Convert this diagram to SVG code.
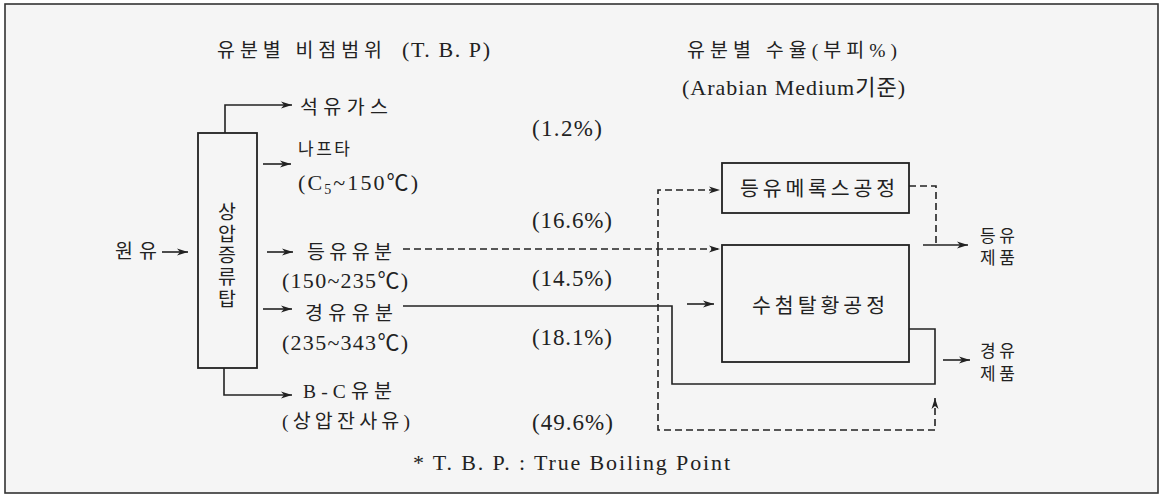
<svg xmlns="http://www.w3.org/2000/svg" width="1164" height="496" viewBox="0 0 1164 496">
<style>
text{font-family:'Liberation Serif','Noto Sans CJK KR',serif;fill:#222;}
.k{font-size:19.5px;}
.ks{font-size:17px;}
.kb{font-size:20.5px;}
.p{font-size:23px;}
.t{font-size:22px;}
.box{fill:none;stroke:#222;stroke-width:1.8;}
.ln{fill:none;stroke:#222;stroke-width:1.6;}
.ds{fill:none;stroke:#222;stroke-width:1.6;stroke-dasharray:7 4;}
</style>
<defs>
<marker id="ah" markerUnits="userSpaceOnUse" markerWidth="12" markerHeight="8" refX="11" refY="4" orient="auto">
<path d="M0,0.5 L11,4 L0,7.5 L3,4 Z" fill="#222"/>
</marker>
</defs>
<rect x="0" y="0" width="1164" height="496" fill="#fff"/>
<rect x="5" y="4" width="1153" height="489" fill="#f5f5f5" stroke="#333" stroke-width="1.6"/>

<g id="titles">
<text x="217" y="57"><tspan class="k" textLength="165" lengthAdjust="spacing">유분별 비점범위</tspan><tspan class="t" x="402" textLength="88" lengthAdjust="spacing">(T. B. P)</tspan></text>
<text class="k" x="687" y="57" textLength="210" lengthAdjust="spacing">유분별 수율(부피%)</text>
<text class="t" x="682" y="95" textLength="223" lengthAdjust="spacing">(Arabian Medium기준)</text>
</g>

<g id="column">
<rect class="box" x="198" y="133" width="59" height="235"/>
<text class="k" text-anchor="middle"><tspan x="227" y="219">상</tspan><tspan x="227" y="241">압</tspan><tspan x="227" y="262">증</tspan><tspan x="227" y="284">류</tspan><tspan x="227" y="306">탑</tspan></text>
</g>

<g id="crude"><text class="k" x="115" y="258" textLength="42" lengthAdjust="spacing">원유</text></g>
<g id="gas"><text class="k" x="300" y="114" textLength="88" lengthAdjust="spacing">석유가스</text></g>
<g id="naphtha">
<text class="ks" x="298" y="155" textLength="52" lengthAdjust="spacing">나프타</text>
<text class="t" x="298" y="190" textLength="120" lengthAdjust="spacing">(C<tspan font-size="14" dy="4">5</tspan><tspan dy="-4">~150℃)</tspan></text>
</g>
<g id="kerosene-cut">
<text class="k" x="307" y="259" textLength="85" lengthAdjust="spacing">등유유분</text>
<text class="t" x="282" y="288" textLength="126" lengthAdjust="spacing">(150~235℃)</text>
</g>
<g id="diesel-cut">
<text class="k" x="305" y="320" textLength="88" lengthAdjust="spacing">경유유분</text>
<text class="t" x="282" y="350" textLength="126" lengthAdjust="spacing">(235~343℃)</text>
</g>
<g id="bc-cut">
<text class="k" x="303" y="398" textLength="89" lengthAdjust="spacing">B-C유분</text>
<text class="k" x="282" y="428" textLength="128" lengthAdjust="spacing">(상압잔사유)</text>
</g>

<g id="yields">
<text class="p" x="532" y="136" textLength="70" lengthAdjust="spacing">(1.2%)</text>
<text class="p" x="532" y="228" textLength="80" lengthAdjust="spacing">(16.6%)</text>
<text class="p" x="532" y="286" textLength="80" lengthAdjust="spacing">(14.5%)</text>
<text class="p" x="532" y="345" textLength="80" lengthAdjust="spacing">(18.1%)</text>
<text class="p" x="532" y="430" textLength="81" lengthAdjust="spacing">(49.6%)</text>
</g>

<g id="merox">
<rect class="box" x="722" y="163" width="187" height="50"/>
<text class="kb" x="740" y="196" textLength="155" lengthAdjust="spacing">등유메록스공정</text>
</g>
<g id="hds">
<rect class="box" x="722" y="245" width="187" height="117"/>
<text class="kb" x="752" y="313" textLength="133" lengthAdjust="spacing">수첨탈황공정</text>
</g>

<g id="kerosene-product">
<text class="ks" x="980" y="242" textLength="35" lengthAdjust="spacing">등유</text>
<text class="ks" x="980" y="264" textLength="35" lengthAdjust="spacing">제품</text>
</g>
<g id="diesel-product">
<text class="ks" x="980" y="357" textLength="35" lengthAdjust="spacing">경유</text>
<text class="ks" x="980" y="380" textLength="35" lengthAdjust="spacing">제품</text>
</g>

<g id="note"><text class="t" x="413" y="470" textLength="317" lengthAdjust="spacing">* T. B. P. : True Boiling Point</text></g>

<g id="connectors">
<path class="ln" d="M162,252 H188" marker-end="url(#ah)"/>
<path class="ln" d="M225,133 V105 H292" marker-end="url(#ah)"/>
<path class="ln" d="M263,164 H291" marker-end="url(#ah)"/>
<path class="ln" d="M267,252 H293" marker-end="url(#ah)"/>
<path class="ln" d="M263,309 H292" marker-end="url(#ah)"/>
<path class="ln" d="M224,368 V395 H292" marker-end="url(#ah)"/>
<path class="ds" d="M403,249 H720" marker-end="url(#ah)"/>
<path class="ds" d="M658,249 V190 H720" marker-end="url(#ah)"/>
<path class="ds" d="M658,249 V430 H935 V398" marker-end="url(#ah)"/>
<path class="ds" d="M909,186 H936 V245"/>
<path class="ln" d="M923,245 H968" marker-end="url(#ah)"/>
<path class="ln" d="M403,306 H672 V384 H935 V329 H909"/>
<path class="ln" d="M687,304 H714" marker-end="url(#ah)"/>
<path class="ln" d="M943,360 H970" marker-end="url(#ah)"/>
</g>
</svg>
